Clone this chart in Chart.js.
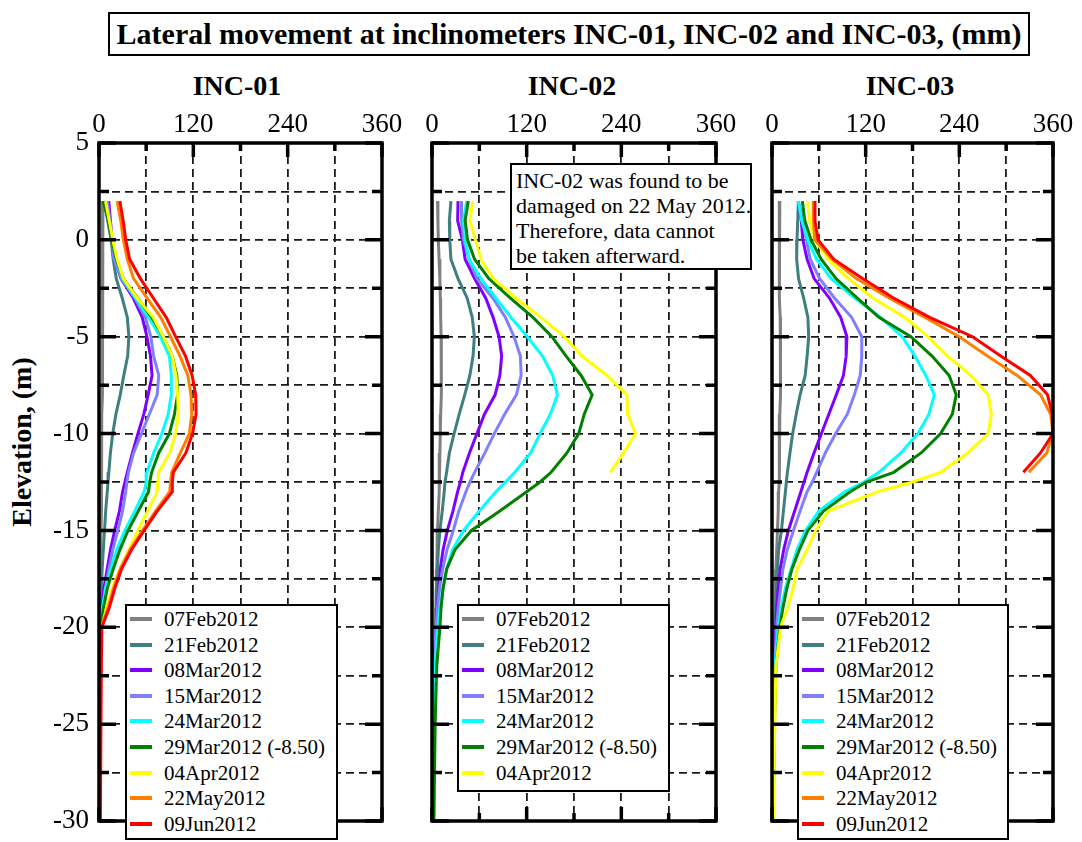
<!DOCTYPE html>
<html>
<head>
<meta charset="utf-8">
<script src="https://cdn.jsdelivr.net/npm/chart.js@4.4.1/dist/chart.umd.min.js"></script>
<style>
html,body{margin:0;padding:0;background:#fff;}
body{width:1082px;height:842px;position:relative;overflow:hidden;font-family:"Liberation Serif","Times New Roman",serif;color:#000;}
canvas{position:absolute;top:0;}
#title{position:absolute;left:108px;top:12px;width:922px;height:44px;box-sizing:border-box;border:2px solid #000;font-weight:bold;font-size:30px;line-height:40px;text-align:center;white-space:nowrap;}
.ptitle{position:absolute;top:70px;width:200px;margin-left:-100px;font-weight:bold;font-size:28px;line-height:32px;text-align:center;}
#ytitle{position:absolute;left:22px;top:442px;transform:translate(-50%,-50%) rotate(-90deg);font-weight:bold;font-size:28px;white-space:nowrap;}
.legend{position:absolute;border:2px solid #000;background:#fff;box-sizing:border-box;}
.row{position:absolute;left:0;right:0;height:26px;font-size:21px;line-height:26px;white-space:nowrap;}
.swatch{position:absolute;left:3px;top:11px;width:22px;height:4px;}
.lbl{position:absolute;left:37px;top:0;}
#note{position:absolute;left:510px;top:163px;width:242px;height:107px;box-sizing:border-box;border:2px solid #000;background:#fff;padding:3px 0 0 4px;font-size:22px;line-height:25px;white-space:nowrap;}
.probe{position:absolute;left:-1000px;top:0;font-size:27px;}
</style>
</head>
<body>
<span class="probe">0123456789-</span>
<div id="title">Lateral movement at inclinometers INC-01, INC-02 and INC-03, (mm)</div>
<div class="ptitle" style="left:237px">INC-01</div>
<div class="ptitle" style="left:572px">INC-02</div>
<div class="ptitle" style="left:910px">INC-03</div>
<div id="ytitle">Elevation, (m)</div>
<canvas id="c1" width="410" height="842" style="left:0px"></canvas>
<canvas id="c2" width="330" height="842" style="left:410px"></canvas>
<canvas id="c3" width="332" height="842" style="left:750px"></canvas>
<div id="note">INC-02 was found to be<br>damaged on 22 May 2012.<br>Therefore, data cannot<br>be taken afterward.</div>
<div class="legend" id="lg1" style="left:125px;top:604px;width:213px;height:236px"></div>
<div class="legend" id="lg2" style="left:457px;top:604px;width:213px;height:188px"></div>
<div class="legend" id="lg3" style="left:797px;top:604px;width:212px;height:236px"></div>
<script>
// ---------- DATA ----------
const elevations = [2, 1, 0, -1, -2, -3, -4, -5, -6, -7, -8, -9, -10, -11, -12, -12.5, -13, -14, -15, -16, -17, -18, -19, -20, -22, -25, -28, -30];
const dates = ['07Feb2012', '21Feb2012', '08Mar2012', '15Mar2012', '24Mar2012', '29Mar2012 (-8.50)', '04Apr2012', '22May2012', '09Jun2012'];
const xTickLabels = [0, 120, 240, 360];
const yTickLabels = [5, 0, -5, -10, -15, -20, -25, -30];

// INC-01 (mm)
const inc01_07Feb = [5, 5, 5, 4.5, 4.5, 4.5, 4.5, 4, 4, 4, 4, 3.5, 3.5, 3.5, 3, 3, 3, 3, 2.5, 2.5, 2, 2, 1.5, 1.5, 1, 1, 0.5, 0.5];
const inc01_21Feb = [7, 11, 15.5, 18, 22, 29.5, 36, 38, 36.5, 31.5, 27, 21.5, 17.5, 14.5, 12.5, 11.5, 10.5, 8.5, 7, 5.5, 4, 3, 2, 1.2, 0.8, 0.5, 0.5, 0.5];
const inc01_08Mar = [12.5, 14.5, 16.7, 19.7, 28, 43.5, 55, 61, 65.5, 67.5, 62.5, 57, 49.5, 42.5, 36, 33, 30, 26, 20, 14.6, 10.4, 6.2, 4, 2, 1, 0.8, 0.5, 0.5];
const inc01_15Mar = [10.5, 14, 16.7, 19, 28.5, 45.5, 59, 66, 69.5, 76, 74, 64, 54, 44, 37.5, 35.5, 34, 30, 24, 17.5, 12.5, 8.3, 5.3, 2, 1, 0.8, 0.5, 0.5];
const inc01_24Mar = [6.5, 12.5, 16.7, 21.8, 30, 46.5, 63, 78, 89.5, 92, 92, 88, 80, 69.5, 61, 60, 57.5, 45.5, 33, 22.5, 15, 8.3, 4.4, 2, 1, 0.8, 0.5, 0.5];
const inc01_29Mar = [5.3, 12, 16.3, 22, 31, 49, 67, 82, 93, 99, 100, 96, 89.5, 76, 67, 64.5, 63, 50, 37, 26.5, 18, 10.5, 5.7, 2, 1, 0.8, 0.5, 0.5];
const inc01_04Apr = [8.3, 13, 17.6, 23, 31, 48.5, 69, 82, 93, 98, 100, 101, 97.5, 90, 76, 75, 74, 62, 49.5, 37.5, 26.5, 16.7, 9.5, 3.6, 1.5, 1, 0.8, 0.5];
const inc01_22May = [23, 27.7, 31, 36, 44, 61, 78.5, 91, 103, 113, 117, 118, 115, 103.5, 92.5, 91, 90, 72, 55.5, 39.5, 27, 18.5, 11.5, 3, 2, 1.5, 1, 1];
const inc01_09Jun = [26.5, 30.7, 34, 39, 52.7, 69, 85.5, 97.5, 110, 118.5, 123, 123.5, 119, 110.5, 94.5, 93.3, 93.3, 74, 57.5, 41.3, 28.6, 20, 12.9, 3.6, 3, 2.5, 2, 1.5];

// INC-02 (mm)
const inc02_07Feb = [7, 7.5, 8, 9, 10, 10.5, 11, 11.5, 12, 12, 11.5, 11, 10.5, 10, 9.5, 9, 9, 8, 7, 6.5, 6, 5.5, 5, 4.5, 3, 2, 1.5, 1];
const inc02_21Feb = [24, 22, 22.5, 24, 33, 44.5, 51, 53.7, 52, 48, 41.5, 34.5, 28, 22, 18.5, 16.5, 15.5, 13, 10, 8, 7, 6, 5.5, 5, 3, 2, 1.5, 1];
const inc02_08Mar = [33, 32.5, 38.5, 42, 54, 68, 77.5, 85, 88.3, 86, 80, 66.5, 57, 47.5, 39, 36, 32.5, 26.5, 19.5, 14, 10.5, 8.5, 6.7, 5, 3, 2, 1.5, 1];
const inc02_15Mar = [37, 37.5, 40, 47, 57, 77, 93, 104, 112, 113, 107, 92, 79, 67, 54, 48, 43, 34, 27, 19, 13.5, 9.5, 7, 5, 3, 2, 1.5, 1];
const inc02_24Mar = [44, 40, 42, 47, 62, 81, 100, 121, 140, 153, 159, 150, 137, 125, 105, 93, 81, 60, 40, 26, 18.5, 14, 10, 7.5, 4, 2.5, 2, 1.5];
const inc02_29Mar = [46, 42, 45, 54, 72, 99, 128, 152, 170, 189, 203, 193, 186, 171, 151, 137, 120, 86, 50, 29, 18.6, 14, 11.5, 10, 6, 4, 3, 2.5];
const inc02_04Apr = [52, 48, 55, 62, 78, 106, 138, 168, 190, 222, 247, 248, 258, 243, 226, null, null, null, null, null, null, null, null, null, null, null, null, null];

// INC-03 (mm)
const inc03_07Feb = [10, 9.5, 9, 9, 9.5, 10, 10.5, 11, 11, 11, 10.5, 10, 10, 9.5, 9, 9, 8.5, 8, 7, 6, 5, 4.5, 4, 3.5, 2.5, 2, 1.5, 1];
const inc03_21Feb = [33.7, 33, 32, 31.6, 34, 40.5, 46, 47, 45, 42.5, 36, 31, 26.5, 23, 19.7, 18.4, 17.2, 14.6, 12.1, 8.5, 7, 5.5, 4.5, 3.8, 2.5, 2, 1.5, 1];
const inc03_08Mar = [33.7, 37.5, 39.5, 45, 54, 73.6, 88, 96, 95, 91.5, 82.4, 72.8, 63.3, 53.8, 45, 41, 37, 29, 21, 15, 10.5, 8, 6, 5, 3, 2, 1.5, 1];
const inc03_15Mar = [33.7, 39.5, 44, 49, 61, 80, 102, 115, 115, 113, 105.5, 96.5, 81.6, 68.3, 57.2, 51.6, 45, 36, 27.5, 19.5, 14, 11, 8, 6, 3.5, 2.5, 2, 1.5];
const inc03_24Mar = [33.7, 38, 46, 57, 76, 106, 139, 167, 183, 197, 208, 201, 187, 165, 137, 118, 93, 60, 43, 32, 24.5, 17, 12, 8, 4, 2.5, 2, 1.5];
const inc03_29Mar = [38.9, 42, 50, 63, 82, 109, 137, 178, 205, 227, 236, 231, 216, 191, 156, 121, 100, 66, 46, 35, 25.5, 19, 14, 10, 5, 3, 2, 1.5];
const inc03_04Apr = [45.7, 48, 55, 72, 98, 129, 170, 200, 225, 255, 277, 281, 277, 251, 216, 180, 136, 72, 56, 45, 32, 27, 20, 11, 5, 3.5, 2.5, 2];
const inc03_22May = [52.9, 52.9, 55, 77, 108, 150, 196, 240, 276, 314, 344, 357, 360, 352, 329, null, null, null, null, null, null, null, null, null, null, null, null, null];
const inc03_09Jun = [55.1, 55, 59, 79, 116, 155.7, 202, 257, 293, 331, 353, 359, 360, 344, 322, null, null, null, null, null, null, null, null, null, null, null, null, null];

// ---------- STYLE ----------
const colors = ['#808080', '#3f7f7f', '#7f00ff', '#8080ff', '#00ffff', '#008000', '#ffff00', '#ff8000', '#ff0000'];
const FONT = "'Liberation Serif', 'Times New Roman', Times, serif";
Chart.defaults.font.family = FONT;

const framePlugin = {
  id: 'frame',
  afterDatasetsDraw(chart) {
    const {ctx, chartArea: a, scales: {x, y}} = chart;
    ctx.save();
    ctx.setLineDash([]);
    ctx.strokeStyle = '#000';
    ctx.lineWidth = 3.5;
    ctx.strokeRect(a.left, a.top, a.right - a.left, a.bottom - a.top);
    ctx.beginPath();
    y.ticks.forEach(t => {
      const py = y.getPixelForValue(t.value);
      const len = (Math.abs(t.value % 5) < 1e-9) ? 17 : 10;
      ctx.moveTo(a.left, py); ctx.lineTo(a.left + len, py);
      ctx.moveTo(a.right, py); ctx.lineTo(a.right - len, py);
    });
    x.ticks.forEach(t => {
      const px = x.getPixelForValue(t.value);
      const len = (t.value % 120 === 0) ? 14 : 8;
      ctx.moveTo(px, a.top); ctx.lineTo(px, a.top + len);
      ctx.moveTo(px, a.bottom); ctx.lineTo(px, a.bottom - len);
    });
    ctx.stroke();
    ctx.restore();
  }
};

const charts = [];
function makePanel(id, series, o) {
  const datasets = series.map((vals, i) => ({
    label: dates[i],
    data: elevations.map((e, k) => ({x: vals[k], y: e})).filter(p => p.x !== null),
    borderColor: colors[i],
    backgroundColor: colors[i],
    borderWidth: 3,
    pointRadius: 0,
    showLine: true,
    fill: false,
    tension: 0,
    order: series.length - i
  }));
  charts.push(new Chart(document.getElementById(id), {
    type: 'scatter',
    data: {datasets},
    options: {
      responsive: false,
      animation: false,
      events: [],
      layout: {padding: {left: o.padLeft, right: o.padRight, top: 143 - 40, bottom: 842 - 821}},
      plugins: {legend: {display: false}, tooltip: {enabled: false}},
      scales: {
        x: {
          type: 'linear', position: 'top', min: 0, max: 360,
          ticks: {
            stepSize: 60, autoSkip: false, maxRotation: 0, padding: 2, color: '#000',
            font: {family: FONT, size: 27},
            callback: v => xTickLabels.includes(v) ? String(v) : ''
          },
          grid: {color: '#1a1a1a', lineWidth: 1.8, drawTicks: false},
          border: {display: false, dash: [8, 5]},
          afterFit: s => { s.height = 40; s.paddingLeft = 0; s.paddingRight = 0; }
        },
        y: {
          type: 'linear', min: -30, max: 5,
          ticks: {
            display: o.yLabels, stepSize: 2.5, autoSkip: false, padding: 10, color: '#000',
            font: {family: FONT, size: 27},
            callback: v => yTickLabels.includes(v) ? String(v) : ''
          },
          grid: {color: '#1a1a1a', lineWidth: 1.8, drawTicks: false},
          border: {display: false, dash: [8, 5]},
          afterFit: s => { s.width = o.yWidth; s.paddingTop = 0; s.paddingBottom = 0; }
        }
      }
    },
    plugins: [framePlugin]
  }));
}

function buildLegend(id, n) {
  const box = document.getElementById(id);
  for (let i = 0; i < n; i++) {
    const row = document.createElement('div');
    row.className = 'row';
    row.style.top = (25.6 * i) + 'px';
    const sw = document.createElement('div');
    sw.className = 'swatch';
    sw.style.background = colors[i];
    const lb = document.createElement('div');
    lb.className = 'lbl';
    lb.textContent = dates[i];
    row.appendChild(sw); row.appendChild(lb);
    box.appendChild(row);
  }
}
buildLegend('lg1', 9);
buildLegend('lg2', 7);
buildLegend('lg3', 9);

makePanel('c1', [inc01_07Feb, inc01_21Feb, inc01_08Mar, inc01_15Mar, inc01_24Mar, inc01_29Mar, inc01_04Apr, inc01_22May, inc01_09Jun],
  {padLeft: 0, padRight: 28, yWidth: 99, yLabels: true});
makePanel('c2', [inc02_07Feb, inc02_21Feb, inc02_08Mar, inc02_15Mar, inc02_24Mar, inc02_29Mar, inc02_04Apr],
  {padLeft: 22, padRight: 24, yWidth: 0, yLabels: false});
makePanel('c3', [inc03_07Feb, inc03_21Feb, inc03_08Mar, inc03_15Mar, inc03_24Mar, inc03_29Mar, inc03_04Apr, inc03_22May, inc03_09Jun],
  {padLeft: 22, padRight: 29, yWidth: 0, yLabels: false});

function redraw() { charts.forEach(c => c.update('none')); }
if (document.fonts && document.fonts.ready) {
  document.fonts.ready.then(() => { redraw(); setTimeout(redraw, 60); });
}
window.addEventListener('load', () => setTimeout(redraw, 30));
</script>
</body>
</html>
